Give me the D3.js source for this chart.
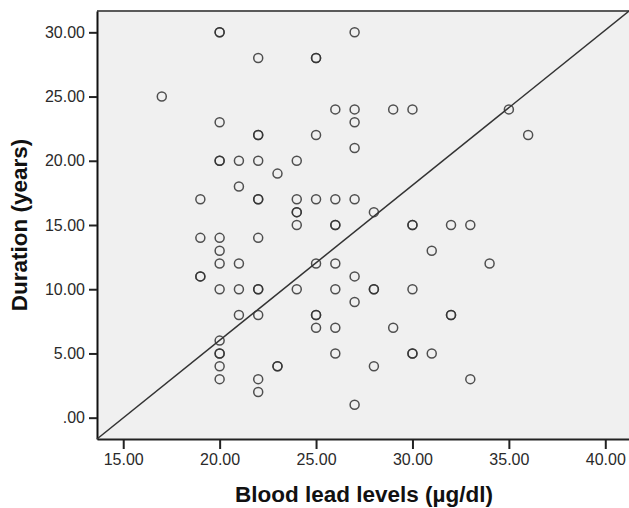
<!DOCTYPE html>
<html>
<head>
<meta charset="utf-8">
<script src="https://cdn.jsdelivr.net/npm/d3@7"></script>
<style>
  html, body { margin: 0; padding: 0; background: #fff; }
  svg { display: block; }
  .tick text { font-family: "Liberation Sans", Arial, sans-serif; font-size: 16px; fill: #2a2a2a; }
  .title { font-family: "Liberation Sans", Arial, sans-serif; font-size: 22.5px; font-weight: bold; fill: #111; }
</style>
</head>
<body>
<div id="chart"></div>
<script>
// blood lead level (µg/dl) vs. duration of exposure (years); repeated pairs are overlapping cases
const leadLevels = [
  20, 20, 22, 25, 25, 27, 17, 26, 27, 29, 30, 35,
  20, 27, 22, 22, 25, 36, 27,
  20, 20, 21, 22, 24, 23, 21,
  19, 22, 22, 24, 25, 26, 27, 24, 24, 28,
  24, 26, 26, 30, 30, 32, 33,
  19, 20, 22, 20, 31, 20, 21, 25, 26, 34,
  19, 19, 27, 20, 21, 22, 22, 24, 26, 28, 28, 30,
  27, 21, 22, 25, 25, 32, 32, 25, 26, 29,
  20, 20, 20, 26, 30, 30, 31,
  20, 23, 23, 28, 20, 22, 33, 22, 27
];
const durations = [
  30, 30, 28, 28, 28, 30, 25, 24, 24, 24, 24, 24,
  23, 23, 22, 22, 22, 22, 21,
  20, 20, 20, 20, 20, 19, 18,
  17, 17, 17, 17, 17, 17, 17, 16, 16, 16,
  15, 15, 15, 15, 15, 15, 15,
  14, 14, 14, 13, 13, 12, 12, 12, 12, 12,
  11, 11, 11, 10, 10, 10, 10, 10, 10, 10, 10, 10,
  9, 8, 8, 8, 8, 8, 8, 7, 7, 7,
  6, 5, 5, 5, 5, 5, 5,
  4, 4, 4, 4, 3, 3, 3, 2, 1
];
const points = leadLevels.map((v, i) => ({ x: v, y: durations[i] }));

const xTicks = [15, 20, 25, 30, 35, 40];
const yTicks = [0, 5, 10, 15, 20, 25, 30];
const xDomain = [13.64, 41.23];
const yDomain = [-1.66, 31.66];
// reference line drawn corner to corner of the plot
const refX = [13.64, 41.23];
const refY = [-1.66, 31.66];

const W = 629, H = 508;
const m = { top: 11, right: 0, bottom: 69, left: 97 };

const svg = d3.select("#chart").append("svg").attr("width", W).attr("height", H);

const x = d3.scaleLinear().domain(xDomain).range([m.left, W - m.right]);
const y = d3.scaleLinear().domain(yDomain).range([H - m.bottom, m.top]);

svg.append("rect")
  .attr("x", m.left).attr("y", m.top)
  .attr("width", W - m.right - m.left).attr("height", H - m.bottom - m.top)
  .attr("fill", "#f0f0f0");

// top frame
svg.append("line")
  .attr("x1", m.left).attr("x2", W).attr("y1", m.top).attr("y2", m.top)
  .attr("stroke", "#5a5a5a").attr("stroke-width", 2);

const fmt = d => d === 0 ? ".00" : d3.format(".2f")(d);

const gx = svg.append("g")
  .attr("transform", `translate(0,${H - m.bottom})`)
  .call(d3.axisBottom(x).tickValues(xTicks).tickFormat(fmt).tickSize(10).tickPadding(5).tickSizeOuter(0));
gx.select(".domain").attr("stroke", "#222").attr("stroke-width", 2);
gx.selectAll(".tick line").attr("stroke", "#222").attr("stroke-width", 2);

const gy = svg.append("g")
  .attr("transform", `translate(${m.left},0)`)
  .call(d3.axisLeft(y).tickValues(yTicks).tickFormat(fmt).tickSize(8).tickPadding(4).tickSizeOuter(0));
gy.select(".domain").attr("stroke", "#111").attr("stroke-width", 2);
gy.selectAll(".tick line").attr("stroke", "#222").attr("stroke-width", 2);

svg.append("line")
  .attr("x1", x(refX[0])).attr("y1", y(refY[0]))
  .attr("x2", x(refX[1])).attr("y2", y(refY[1]))
  .attr("stroke", "#333").attr("stroke-width", 1.5);

svg.append("g").selectAll("circle")
  .data(points).join("circle")
  .attr("cx", d => x(d.x)).attr("cy", d => y(d.y))
  .attr("r", 4.5)
  .attr("fill", "none")
  .attr("stroke", "#333").attr("stroke-opacity", 0.85).attr("stroke-width", 1.5);

svg.append("text").attr("class", "title")
  .attr("x", (m.left + W) / 2 + 1).attr("y", 502)
  .attr("text-anchor", "middle")
  .text("Blood lead levels (µg/dl)");

svg.append("text").attr("class", "title")
  .attr("transform", `translate(27,${(m.top + H - m.bottom) / 2}) rotate(-90)`)
  .attr("text-anchor", "middle")
  .text("Duration (years)");
</script>
</body>
</html>
